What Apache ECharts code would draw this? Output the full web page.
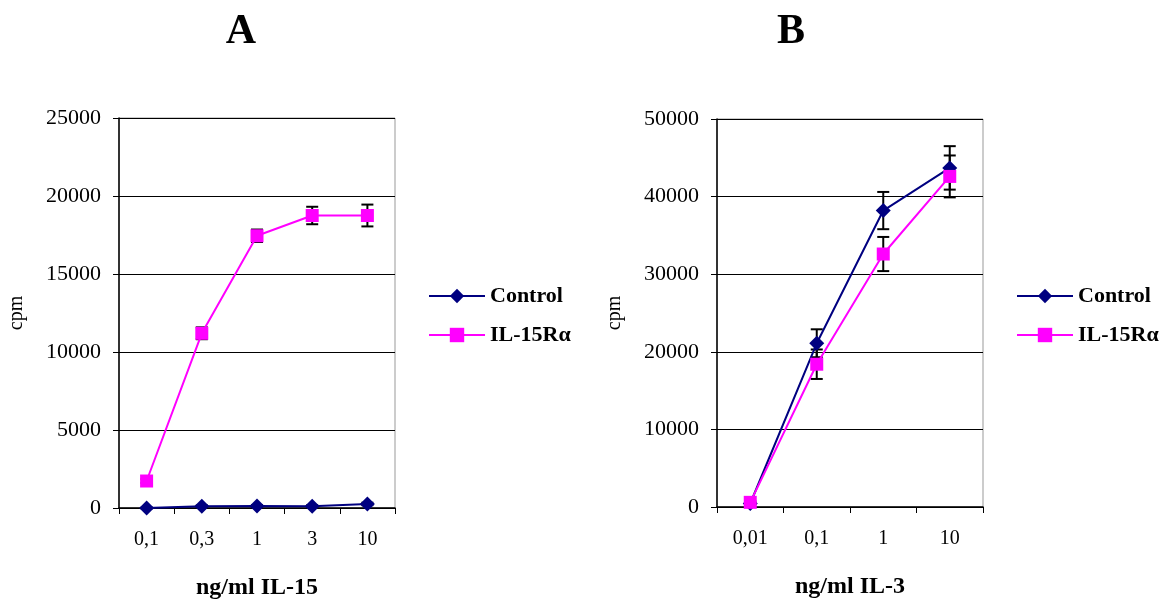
<!DOCTYPE html>
<html>
<head>
<meta charset="UTF-8">
<title>cpm</title>
<script src="https://cdn.jsdelivr.net/npm/echarts@6/dist/echarts.min.js"></script>
<style>
  html, body { margin: 0; padding: 0; background: #fff; }
  #chart { width: 1175px; height: 599px; }
</style>
</head>
<body>
<div id="chart"></div>
<script type="text/javascript">
  // panel A
  var catsA = ['0,1', '0,3', '1', '3', '10'];
  var ctrlA = [0, 110, 130, 120, 260];
  var ctrlErrA = [30, 60, 60, 60, 80];
  var rcpA = [1730, 11200, 17450, 18750, 18750];
  var rcpErrA = [120, 380, 400, 560, 700];
  // panel B
  var catsB = ['0,01', '0,1', '1', '10'];
  var ctrlB = [450, 21100, 38200, 43700];
  var ctrlErrB = [150, 1800, 2400, 2800];
  var rcpB = [600, 18400, 32600, 42600];
  var rcpErrB = [150, 1900, 2200, 2700];

  var serif = 'Liberation Serif';
  var navy = '#000080', pink = '#FF00FF';

  function errData(vals, errs) {
    return vals.map(function (v, i) { return [i, v - errs[i], v + errs[i]]; });
  }

  function errRender(params, api) {
    var lo = api.coord([api.value(0), api.value(1)]);
    var hi = api.coord([api.value(0), api.value(2)]);
    var w = 6;
    var st = { stroke: '#000', lineWidth: 2 };
    return {
      type: 'group',
      children: [
        { type: 'line', shape: { x1: hi[0], y1: hi[1], x2: lo[0], y2: lo[1] }, style: st },
        { type: 'line', shape: { x1: hi[0] - w, y1: hi[1], x2: hi[0] + w, y2: hi[1] }, style: st },
        { type: 'line', shape: { x1: lo[0] - w, y1: lo[1], x2: lo[0] + w, y2: lo[1] }, style: st }
      ]
    };
  }

  function xAxis(cats, idx, name) {
    return {
      type: 'category', gridIndex: idx, data: cats, boundaryGap: true,
      name: name, nameLocation: 'middle', nameGap: 68,
      nameTextStyle: { fontFamily: serif, fontWeight: 'bold', fontSize: 24, color: '#000' },
      axisLine: { lineStyle: { color: '#000', width: 1.5 } },
      axisTick: { show: true, length: 6, alignWithLabel: false, lineStyle: { color: '#000' } },
      axisLabel: { fontFamily: serif, fontSize: 20, color: '#000', margin: 22 },
      splitLine: { show: false }
    };
  }

  function yAxis(idx, max, step) {
    return {
      type: 'value', gridIndex: idx, min: 0, max: max, interval: step,
      name: 'cpm', nameLocation: 'middle', nameGap: 92, nameRotate: 90,
      nameTextStyle: { fontFamily: serif, fontSize: 20, color: '#000' },
      axisLine: { show: true, lineStyle: { color: '#000', width: 1.5 } },
      axisTick: { show: true, length: 6, lineStyle: { color: '#000' } },
      axisLabel: { fontFamily: serif, fontSize: 22, color: '#000', margin: 18,
                   formatter: function (v) { return String(v); } },
      splitLine: { show: true, lineStyle: { color: '#000', width: 1 } }
    };
  }

  function lineSeries(name, idx, data, color, sym, size) {
    return {
      name: name, type: 'line', xAxisIndex: idx, yAxisIndex: idx, data: data,
      symbol: sym, symbolSize: size, color: color, z: 3,
      lineStyle: { color: color, width: 2 },
      itemStyle: { color: color }
    };
  }

  function errSeries(idx, vals, errs) {
    return {
      type: 'custom', xAxisIndex: idx, yAxisIndex: idx,
      data: errData(vals, errs), renderItem: errRender, z: 2, silent: true
    };
  }

  var legendText = { fontFamily: serif, fontWeight: 'bold', fontSize: 22, color: '#000' };

  var myChart = echarts.init(document.getElementById('chart'));
  var option = {
    animation: false,
    backgroundColor: '#fff',
    title: [
      { text: 'A', left: 236, top: 6, textAlign: 'center',
        textStyle: { fontFamily: serif, fontWeight: 'bold', fontSize: 42, color: '#000' } },
      { text: 'B', left: 786, top: 6, textAlign: 'center',
        textStyle: { fontFamily: serif, fontWeight: 'bold', fontSize: 42, color: '#000' } }
    ],
    legend: [
      { left: 423, top: 280, orient: 'vertical', itemGap: 17, itemWidth: 56, itemHeight: 18,
        data: ['Control', 'IL-15Rα'], textStyle: legendText, selectedMode: false },
      { left: 1011, top: 280, orient: 'vertical', itemGap: 17, itemWidth: 56, itemHeight: 18,
        data: ['Control', 'IL-15Rα'], textStyle: legendText, selectedMode: false }
    ],
    grid: [
      { left: 119, top: 118, width: 276, height: 390, show: true, borderColor: '#999', borderWidth: 1,
        outerBoundsMode: 'none', containLabel: false },
      { left: 717, top: 119, width: 266, height: 388, show: true, borderColor: '#999', borderWidth: 1,
        outerBoundsMode: 'none', containLabel: false }
    ],
    xAxis: [xAxis(catsA, 0, 'ng/ml IL-15'), xAxis(catsB, 1, 'ng/ml IL-3')],
    yAxis: [yAxis(0, 25000, 5000), yAxis(1, 50000, 10000)],
    series: [
      errSeries(0, rcpA, rcpErrA),
      errSeries(0, ctrlA, ctrlErrA),
      lineSeries('Control', 0, ctrlA, navy, 'diamond', 15),
      lineSeries('IL-15Rα', 0, rcpA, pink, 'rect', 13),
      errSeries(1, ctrlB, ctrlErrB),
      errSeries(1, rcpB, rcpErrB),
      lineSeries('Control', 1, ctrlB, navy, 'diamond', 15),
      lineSeries('IL-15Rα', 1, rcpB, pink, 'rect', 13)
    ]
  };
  myChart.setOption(option);
</script>
</body>
</html>
